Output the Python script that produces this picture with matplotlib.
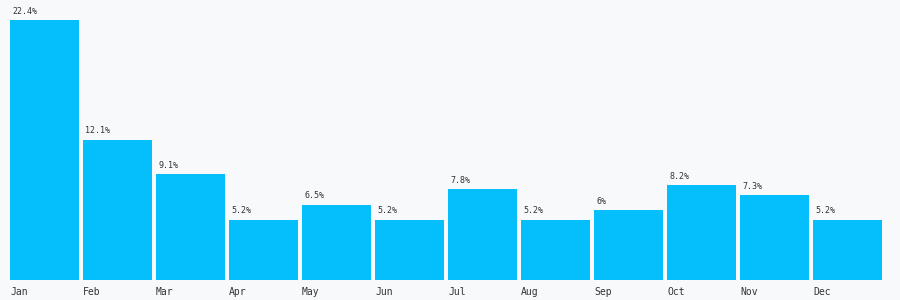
import matplotlib.pyplot as plt

months = ['Jan', 'Feb', 'Mar', 'Apr', 'May', 'Jun', 'Jul', 'Aug', 'Sep', 'Oct', 'Nov', 'Dec']
shares = [22.4, 12.1, 9.1, 5.2, 6.5, 5.2, 7.8, 5.2, 6, 8.2, 7.3, 5.2]
labels = ['22.4%', '12.1%', '9.1%', '5.2%', '6.5%', '5.2%', '7.8%', '5.2%', '6%', '8.2%', '7.3%', '5.2%']

bg = '#f8f9fb'
fig = plt.figure(figsize=(9, 3), dpi=100, facecolor=bg)
ax = fig.add_axes([10 / 900, 20 / 300, 872 / 900, 280 / 300])
ax.set_facecolor(bg)

w = 69 / 73
xs = list(range(len(months)))
ax.bar(xs, shares, width=w, align='edge', color='#04bffb')

for x, v, lab in zip(xs, shares, labels):
    ax.annotate(lab, (x, v), xytext=(1.5, 3), textcoords='offset points',
                ha='left', va='bottom', fontsize=6, family='DejaVu Sans Mono', color='#333333')

ax.set_xlim(0, 11 + w)
ax.set_ylim(0, 280 / (260 / 22.4))
ax.set_xticks(xs)
ax.set_xticklabels(months, ha='left', fontsize=7, family='DejaVu Sans Mono', color='#333333')
ax.tick_params(axis='x', length=0, pad=5)
ax.set_yticks([])
for s in ax.spines.values():
    s.set_visible(False)

fig.savefig('out.png', dpi=100, facecolor=bg)
